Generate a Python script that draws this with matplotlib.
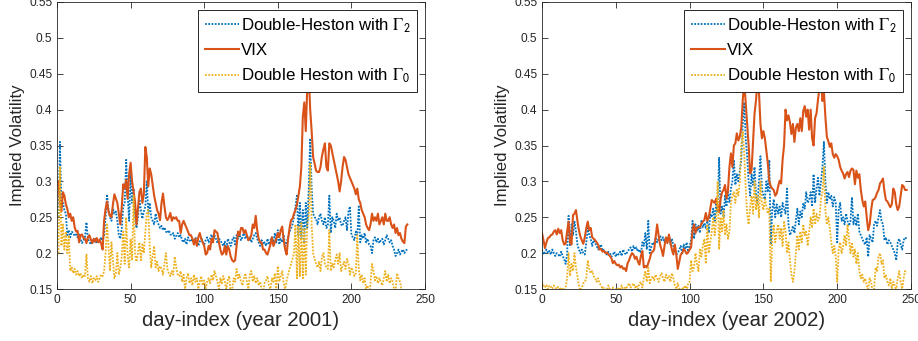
import numpy as np
import matplotlib
matplotlib.use("Agg")
import matplotlib.pyplot as plt

plt.rcParams['font.family'] = ['Liberation Sans', 'DejaVu Sans']
plt.rcParams['mathtext.fontset'] = 'stix'

# ---------------- data: year 2001 (days 1..238) ----------------
vix_2001 = [
    0.300, 0.270, 0.258, 0.285, 0.280, 0.268, 0.262, 0.250, 0.255, 0.245,
    0.250, 0.236, 0.230, 0.231, 0.215, 0.225, 0.226, 0.221, 0.220, 0.214,
    0.222, 0.225, 0.219, 0.214, 0.220, 0.216, 0.221, 0.215, 0.219, 0.213,
    0.205, 0.245, 0.262, 0.272, 0.258, 0.252, 0.250, 0.268, 0.282, 0.276,
    0.270, 0.255, 0.240, 0.265, 0.296, 0.290, 0.302, 0.276, 0.310, 0.326,
    0.300, 0.286, 0.272, 0.240, 0.262, 0.285, 0.290, 0.270, 0.282, 0.348,
    0.334, 0.293, 0.318, 0.310, 0.295, 0.280, 0.270, 0.260, 0.255, 0.246,
    0.270, 0.283, 0.265, 0.250, 0.246, 0.250, 0.256, 0.245, 0.250, 0.248,
    0.250, 0.245, 0.245, 0.228, 0.240, 0.245, 0.240, 0.235, 0.230, 0.225,
    0.225, 0.220, 0.212, 0.220, 0.210, 0.222, 0.228, 0.220, 0.215, 0.210,
    0.198, 0.200, 0.210, 0.205, 0.220, 0.215, 0.232, 0.230, 0.228, 0.215,
    0.205, 0.198, 0.200, 0.210, 0.198, 0.210, 0.205, 0.195, 0.190, 0.188,
    0.190, 0.210, 0.230, 0.225, 0.235, 0.235, 0.228, 0.232, 0.225, 0.218,
    0.220, 0.225, 0.240, 0.235, 0.252, 0.232, 0.220, 0.215, 0.215, 0.205,
    0.205, 0.200, 0.198, 0.205, 0.212, 0.222, 0.210, 0.215, 0.220, 0.228,
    0.222, 0.232, 0.237, 0.218, 0.205, 0.198, 0.220, 0.235, 0.246, 0.248,
    0.255, 0.260, 0.268, 0.280, 0.293, 0.320, 0.390, 0.410, 0.370, 0.430,
    0.450, 0.400, 0.370, 0.334, 0.325, 0.315, 0.313, 0.313, 0.320, 0.335,
    0.345, 0.353, 0.320, 0.315, 0.353, 0.350, 0.340, 0.330, 0.320, 0.310,
    0.300, 0.286, 0.300, 0.320, 0.334, 0.330, 0.320, 0.310, 0.305, 0.300,
    0.295, 0.290, 0.282, 0.290, 0.275, 0.270, 0.260, 0.255, 0.250, 0.240,
    0.235, 0.232, 0.240, 0.255, 0.245, 0.250, 0.245, 0.255, 0.240, 0.245,
    0.250, 0.240, 0.255, 0.245, 0.245, 0.250, 0.240, 0.235, 0.240, 0.228,
    0.235, 0.225, 0.228, 0.220, 0.216, 0.214, 0.237, 0.240,
]
g2_2001 = [
    0.250, 0.355, 0.265, 0.270, 0.260, 0.255, 0.225, 0.232, 0.222, 0.230,
    0.228, 0.224, 0.226, 0.222, 0.226, 0.220, 0.214, 0.218, 0.222, 0.243,
    0.220, 0.216, 0.212, 0.218, 0.215, 0.220, 0.214, 0.218, 0.216, 0.222,
    0.218, 0.225, 0.250, 0.282, 0.260, 0.250, 0.245, 0.262, 0.255, 0.258,
    0.245, 0.225, 0.220, 0.235, 0.265, 0.270, 0.330, 0.280, 0.245, 0.310,
    0.270, 0.290, 0.255, 0.235, 0.250, 0.275, 0.260, 0.248, 0.258, 0.265,
    0.300, 0.255, 0.270, 0.250, 0.245, 0.240, 0.255, 0.245, 0.240, 0.235,
    0.238, 0.232, 0.236, 0.230, 0.228, 0.232, 0.226, 0.225, 0.228, 0.220,
    0.224, 0.228, 0.222, 0.225, 0.218, 0.215, 0.220, 0.212, 0.222, 0.218,
    0.216, 0.220, 0.214, 0.222, 0.218, 0.210, 0.216, 0.222, 0.215, 0.212,
    0.218, 0.222, 0.215, 0.220, 0.226, 0.218, 0.225, 0.220, 0.214, 0.220,
    0.218, 0.214, 0.210, 0.216, 0.205, 0.220, 0.215, 0.210, 0.218, 0.222,
    0.212, 0.225, 0.220, 0.228, 0.218, 0.222, 0.230, 0.220, 0.225, 0.218,
    0.222, 0.215, 0.220, 0.225, 0.228, 0.220, 0.215, 0.210, 0.218, 0.212,
    0.215, 0.210, 0.220, 0.212, 0.218, 0.222, 0.215, 0.228, 0.215, 0.232,
    0.212, 0.220, 0.215, 0.225, 0.210, 0.215, 0.222, 0.230, 0.235, 0.240,
    0.250, 0.265, 0.280, 0.225, 0.270, 0.220, 0.260, 0.215, 0.270, 0.235,
    0.290, 0.360, 0.290, 0.255, 0.250, 0.248, 0.240, 0.250, 0.255, 0.245,
    0.240, 0.250, 0.235, 0.238, 0.280, 0.228, 0.250, 0.245, 0.235, 0.255,
    0.245, 0.250, 0.240, 0.238, 0.245, 0.250, 0.232, 0.258, 0.265, 0.225,
    0.222, 0.218, 0.230, 0.225, 0.265, 0.215, 0.225, 0.220, 0.228, 0.215,
    0.220, 0.212, 0.210, 0.200, 0.218, 0.222, 0.215, 0.220, 0.214, 0.218,
    0.220, 0.212, 0.218, 0.225, 0.220, 0.215, 0.218, 0.210, 0.205, 0.196,
    0.200, 0.205, 0.198, 0.202, 0.205, 0.200, 0.204, 0.205,
]
g0_2001 = [
    0.200, 0.320, 0.210, 0.240, 0.205, 0.230, 0.200, 0.225, 0.175, 0.180,
    0.172, 0.178, 0.170, 0.175, 0.168, 0.172, 0.165, 0.170, 0.168, 0.198,
    0.165, 0.160, 0.168, 0.158, 0.165, 0.162, 0.168, 0.160, 0.165, 0.170,
    0.168, 0.175, 0.200, 0.240, 0.210, 0.175, 0.215, 0.190, 0.165, 0.172,
    0.200, 0.170, 0.180, 0.195, 0.230, 0.185, 0.250, 0.195, 0.180, 0.220,
    0.190, 0.280, 0.200, 0.188, 0.200, 0.215, 0.190, 0.212, 0.200, 0.230,
    0.255, 0.260, 0.210, 0.180, 0.195, 0.210, 0.180, 0.188, 0.175, 0.182,
    0.178, 0.170, 0.185, 0.200, 0.178, 0.172, 0.168, 0.175, 0.170, 0.195,
    0.180, 0.170, 0.168, 0.175, 0.160, 0.170, 0.150, 0.165, 0.172, 0.158,
    0.165, 0.155, 0.170, 0.160, 0.165, 0.150, 0.160, 0.168, 0.155, 0.162,
    0.150, 0.160, 0.165, 0.158, 0.170, 0.162, 0.175, 0.168, 0.160, 0.150,
    0.165, 0.158, 0.168, 0.160, 0.150, 0.162, 0.168, 0.145, 0.150, 0.165,
    0.160, 0.178, 0.165, 0.170, 0.160, 0.155, 0.165, 0.172, 0.160, 0.150,
    0.170, 0.175, 0.160, 0.168, 0.158, 0.165, 0.155, 0.160, 0.150, 0.145,
    0.158, 0.162, 0.168, 0.155, 0.150, 0.165, 0.160, 0.172, 0.148, 0.182,
    0.160, 0.168, 0.175, 0.158, 0.150, 0.162, 0.170, 0.178, 0.185, 0.192,
    0.200, 0.240, 0.165, 0.238, 0.168, 0.242, 0.165, 0.235, 0.170, 0.240,
    0.250, 0.325, 0.240, 0.200, 0.192, 0.185, 0.180, 0.188, 0.175, 0.195,
    0.200, 0.185, 0.180, 0.178, 0.232, 0.175, 0.185, 0.180, 0.190, 0.198,
    0.185, 0.200, 0.175, 0.182, 0.188, 0.178, 0.192, 0.185, 0.170, 0.180,
    0.175, 0.168, 0.172, 0.225, 0.178, 0.162, 0.170, 0.158, 0.165, 0.150,
    0.155, 0.140, 0.158, 0.185, 0.175, 0.162, 0.168, 0.158, 0.165, 0.160,
    0.155, 0.165, 0.175, 0.160, 0.170, 0.158, 0.165, 0.160, 0.150, 0.148,
    0.172, 0.165, 0.160, 0.150, 0.145, 0.140, 0.135, 0.140,
]

# ---------------- data: year 2002 (days 0..247) ----------------
vix_2002 = [
    0.228, 0.218, 0.207, 0.215, 0.221, 0.222, 0.225, 0.226, 0.230, 0.232,
    0.226, 0.234, 0.228, 0.232, 0.218, 0.212, 0.213, 0.230, 0.244, 0.215,
    0.212, 0.253, 0.255, 0.260, 0.245, 0.232, 0.223, 0.218, 0.213, 0.222,
    0.235, 0.244, 0.232, 0.235, 0.222, 0.220, 0.218, 0.215, 0.212, 0.205,
    0.206, 0.202, 0.203, 0.200, 0.201, 0.198, 0.196, 0.193, 0.186, 0.189,
    0.185, 0.183, 0.184, 0.180, 0.182, 0.178, 0.179, 0.175, 0.186, 0.190,
    0.196, 0.200, 0.198, 0.192, 0.195, 0.188, 0.184, 0.196, 0.203, 0.180,
    0.182, 0.180, 0.186, 0.192, 0.200, 0.202, 0.205, 0.222, 0.240, 0.225,
    0.212, 0.205, 0.196, 0.210, 0.222, 0.214, 0.226, 0.215, 0.205, 0.198,
    0.212, 0.198, 0.178, 0.188, 0.198, 0.200, 0.206, 0.203, 0.199, 0.201,
    0.205, 0.208, 0.232, 0.240, 0.228, 0.235, 0.236, 0.236, 0.241, 0.244,
    0.246, 0.256, 0.245, 0.250, 0.262, 0.274, 0.272, 0.270, 0.276, 0.265,
    0.257, 0.275, 0.285, 0.288, 0.295, 0.276, 0.288, 0.320, 0.339, 0.320,
    0.350, 0.353, 0.367, 0.357, 0.362, 0.375, 0.413, 0.440, 0.410, 0.380,
    0.350, 0.311, 0.316, 0.355, 0.395, 0.413, 0.440, 0.425, 0.380, 0.360,
    0.370, 0.360, 0.342, 0.325, 0.300, 0.293, 0.290, 0.288, 0.280, 0.283,
    0.293, 0.301, 0.297, 0.330, 0.350, 0.400, 0.385, 0.392, 0.382, 0.366,
    0.380, 0.355, 0.375, 0.380, 0.370, 0.388, 0.370, 0.398, 0.405, 0.390,
    0.400, 0.372, 0.400, 0.360, 0.350, 0.388, 0.395, 0.414, 0.430, 0.445,
    0.412, 0.425, 0.390, 0.362, 0.356, 0.348, 0.353, 0.338, 0.333, 0.338,
    0.335, 0.330, 0.320, 0.315, 0.311, 0.304, 0.310, 0.313, 0.306, 0.315,
    0.318, 0.316, 0.296, 0.315, 0.305, 0.310, 0.288, 0.274, 0.265, 0.272,
    0.250, 0.232, 0.240, 0.260, 0.274, 0.275, 0.278, 0.284, 0.288, 0.297,
    0.300, 0.304, 0.286, 0.274, 0.272, 0.268, 0.264, 0.268, 0.290, 0.285,
    0.268, 0.260, 0.265, 0.280, 0.295, 0.293, 0.288, 0.288,
]
g2_2002 = [
    0.205, 0.198, 0.202, 0.205, 0.200, 0.203, 0.198, 0.205, 0.200, 0.196,
    0.200, 0.198, 0.195, 0.202, 0.196, 0.192, 0.185, 0.198, 0.252, 0.210,
    0.240, 0.225, 0.245, 0.230, 0.212, 0.205, 0.200, 0.205, 0.200, 0.198,
    0.215, 0.235, 0.225, 0.220, 0.210, 0.218, 0.214, 0.210, 0.205, 0.208,
    0.212, 0.203, 0.205, 0.200, 0.198, 0.202, 0.200, 0.195, 0.198, 0.202,
    0.195, 0.200, 0.198, 0.202, 0.196, 0.205, 0.200, 0.198, 0.203, 0.205,
    0.208, 0.202, 0.210, 0.205, 0.208, 0.202, 0.205, 0.200, 0.215, 0.210,
    0.228, 0.205, 0.245, 0.200, 0.208, 0.215, 0.212, 0.222, 0.215, 0.220,
    0.225, 0.218, 0.222, 0.215, 0.222, 0.218, 0.225, 0.212, 0.220, 0.210,
    0.205, 0.198, 0.200, 0.205, 0.210, 0.200, 0.212, 0.205, 0.215, 0.202,
    0.210, 0.218, 0.245, 0.220, 0.240, 0.230, 0.238, 0.228, 0.245, 0.236,
    0.242, 0.235, 0.245, 0.228, 0.255, 0.250, 0.262, 0.245, 0.270, 0.258,
    0.333, 0.255, 0.265, 0.250, 0.280, 0.265, 0.285, 0.270, 0.290, 0.300,
    0.330, 0.295, 0.310, 0.300, 0.315, 0.330, 0.380, 0.410, 0.360, 0.335,
    0.300, 0.280, 0.310, 0.295, 0.320, 0.280, 0.270, 0.300, 0.335, 0.290,
    0.280, 0.275, 0.300, 0.285, 0.330, 0.212, 0.260, 0.275, 0.250, 0.268,
    0.255, 0.265, 0.250, 0.270, 0.262, 0.255, 0.290, 0.240, 0.225, 0.230,
    0.238, 0.228, 0.245, 0.262, 0.240, 0.258, 0.250, 0.270, 0.262, 0.285,
    0.270, 0.275, 0.285, 0.265, 0.310, 0.270, 0.290, 0.305, 0.280, 0.300,
    0.320, 0.355, 0.300, 0.270, 0.285, 0.275, 0.280, 0.265, 0.278, 0.270,
    0.215, 0.260, 0.270, 0.245, 0.250, 0.240, 0.255, 0.245, 0.238, 0.245,
    0.278, 0.240, 0.250, 0.238, 0.255, 0.230, 0.225, 0.220, 0.215, 0.212,
    0.222, 0.195, 0.225, 0.220, 0.215, 0.240, 0.245, 0.238, 0.250, 0.260,
    0.245, 0.240, 0.218, 0.222, 0.212, 0.218, 0.215, 0.210, 0.205, 0.200,
    0.190, 0.215, 0.220, 0.212, 0.205, 0.218, 0.222, 0.220,
]
g0_2002 = [
    0.160, 0.155, 0.152, 0.156, 0.150, 0.155, 0.153, 0.150, 0.155, 0.152,
    0.150, 0.153, 0.148, 0.152, 0.150, 0.148, 0.152, 0.165, 0.200, 0.168,
    0.185, 0.175, 0.200, 0.180, 0.168, 0.155, 0.148, 0.152, 0.158, 0.160,
    0.165, 0.190, 0.178, 0.172, 0.175, 0.168, 0.165, 0.160, 0.165, 0.158,
    0.155, 0.150, 0.152, 0.148, 0.150, 0.155, 0.148, 0.150, 0.152, 0.145,
    0.150, 0.148, 0.152, 0.150, 0.155, 0.148, 0.152, 0.150, 0.155, 0.158,
    0.152, 0.155, 0.158, 0.152, 0.155, 0.150, 0.158, 0.160, 0.152, 0.165,
    0.175, 0.160, 0.180, 0.158, 0.165, 0.168, 0.162, 0.170, 0.165, 0.160,
    0.168, 0.172, 0.165, 0.160, 0.170, 0.165, 0.168, 0.160, 0.172, 0.165,
    0.155, 0.150, 0.158, 0.150, 0.148, 0.152, 0.150, 0.155, 0.148, 0.158,
    0.160, 0.190, 0.175, 0.180, 0.200, 0.185, 0.175, 0.205, 0.195, 0.210,
    0.220, 0.185, 0.240, 0.200, 0.215, 0.230, 0.250, 0.225, 0.245, 0.300,
    0.205, 0.250, 0.230, 0.260, 0.225, 0.240, 0.220, 0.230, 0.270, 0.280,
    0.285, 0.270, 0.290, 0.280, 0.300, 0.350, 0.370, 0.340, 0.290, 0.255,
    0.240, 0.265, 0.280, 0.255, 0.300, 0.260, 0.280, 0.250, 0.300, 0.270,
    0.260, 0.275, 0.265, 0.255, 0.262, 0.160, 0.220, 0.240, 0.215, 0.230,
    0.240, 0.220, 0.235, 0.210, 0.245, 0.230, 0.200, 0.215, 0.190, 0.170,
    0.160, 0.175, 0.200, 0.225, 0.205, 0.230, 0.215, 0.240, 0.225, 0.230,
    0.210, 0.230, 0.250, 0.235, 0.262, 0.240, 0.255, 0.245, 0.250, 0.275,
    0.285, 0.320, 0.260, 0.240, 0.250, 0.235, 0.215, 0.200, 0.210, 0.195,
    0.160, 0.205, 0.215, 0.200, 0.210, 0.225, 0.210, 0.240, 0.220, 0.200,
    0.215, 0.195, 0.205, 0.185, 0.200, 0.175, 0.165, 0.170, 0.160, 0.165,
    0.155, 0.150, 0.165, 0.160, 0.145, 0.150, 0.180, 0.175, 0.195, 0.200,
    0.185, 0.190, 0.165, 0.170, 0.160, 0.155, 0.165, 0.150, 0.160, 0.155,
    0.148, 0.165, 0.175, 0.160, 0.150, 0.165, 0.175, 0.172,
]

days_2001 = np.arange(1, len(vix_2001) + 1)
days_2002 = np.arange(0, len(vix_2002))

labels = [r'Double-Heston with $\Gamma_{\mathsf{2}}$', 'VIX',
          r'Double Heston with $\Gamma_{\mathsf{0}}$']
years = ['2001', '2002']
yticks = [0.15, 0.2, 0.25, 0.3, 0.35, 0.4, 0.45, 0.5, 0.55]
xticks = [0, 50, 100, 150, 200, 250]

C_BLUE = '#0072BD'
C_ORANGE = '#D95319'
C_YELLOW = '#EDB120'
AX_COL = '#262626'

fig = plt.figure(figsize=(9.18, 3.41), dpi=100)
ax_pos = [[57 / 918, 52 / 341, 368 / 918, 287 / 341],
          [542 / 918, 52 / 341, 369 / 918, 287 / 341]]

datasets = [(days_2001, g2_2001, vix_2001, g0_2001),
            (days_2002, g2_2002, vix_2002, g0_2002)]

for i, (d, g2, vx, g0) in enumerate(datasets):
    ax = fig.add_axes(ax_pos[i])
    ax.plot(d, g2, color=C_BLUE, lw=1.3, ls=(0, (1, 0.8)), label=labels[0])
    ax.plot(d, vx, color=C_ORANGE, lw=1.5, ls='-', label=labels[1])
    ax.plot(d, g0, color=C_YELLOW, lw=1.3, ls=(0, (1, 0.8)), label=labels[2])
    ax.set_xlim(0, 250)
    ax.set_ylim(0.15, 0.55)
    ax.set_xticks(xticks)
    ax.set_yticks(yticks)
    ax.set_yticklabels([f'{t:g}' for t in yticks])
    ax.tick_params(direction='in', length=4, width=0.6, colors=AX_COL,
                   labelsize=8.6, top=True, right=True, pad=3.5)
    for s in ax.spines.values():
        s.set_color(AX_COL)
        s.set_linewidth(0.6)
    ax.set_xlabel(f'day-index (year {years[i]})', fontsize=14.6, color=AX_COL,
                  labelpad=4)
    ax.set_ylabel('Implied Volatility', fontsize=12.2, color=AX_COL, labelpad=3)
    leg = ax.legend(loc='upper right', fontsize=12.2, frameon=True, fancybox=False,
                    framealpha=1, edgecolor=AX_COL, handlelength=2.0,
                    handletextpad=0.1, labelspacing=0.5, borderpad=0.4,
                    borderaxespad=0.45)
    leg.get_frame().set_linewidth(0.7)
    for t in leg.get_texts():
        t.set_color('black')

fig.savefig('out.png', dpi=100)
